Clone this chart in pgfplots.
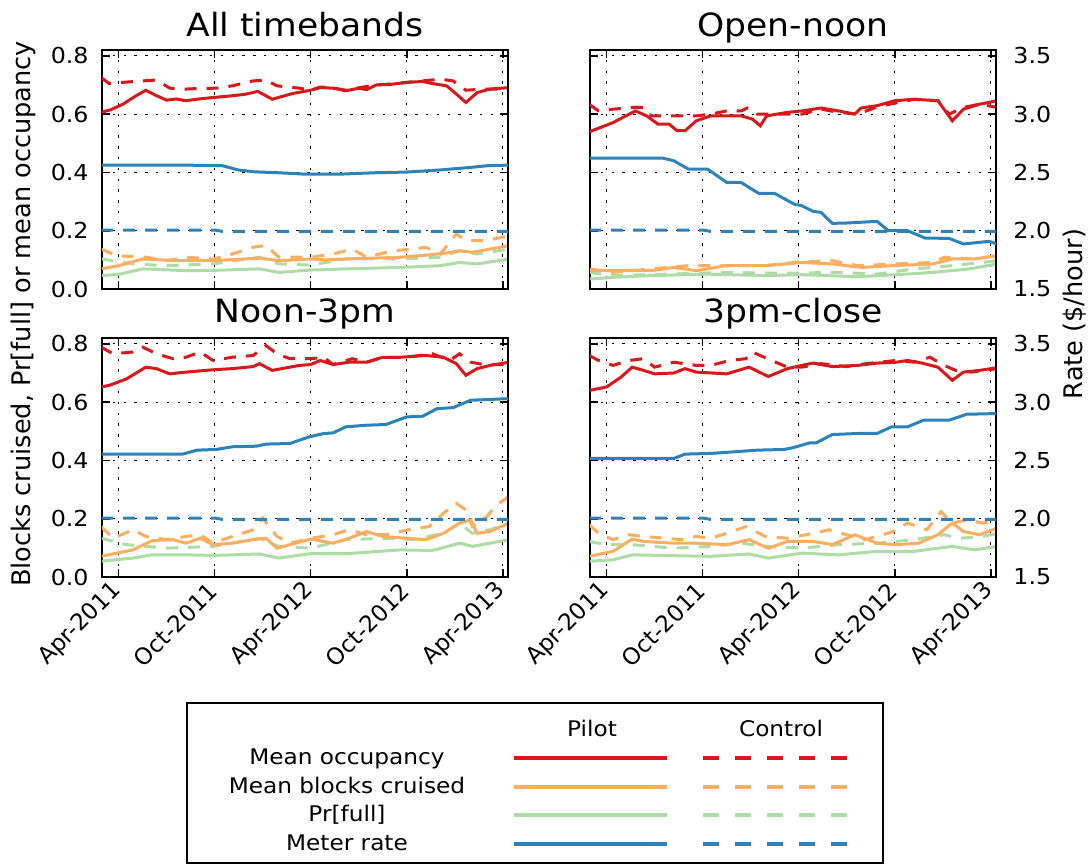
\documentclass[border=0pt]{standalone}
\usepackage{pgfplots}
\pgfplotsset{compat=1.18}
\usepackage{fontspec}
\setmainfont{DejaVu Sans}[FakeStretch=1.08]
\newfontfamily\rotfont{DejaVu Sans}
\definecolor{cRed}{HTML}{D7191C}
\definecolor{cOr}{HTML}{FDAE61}
\definecolor{cGr}{HTML}{ABDDA4}
\definecolor{cBl}{HTML}{2B83BA}

\pgfplotsset{
 panel/.style={scale only axis, width=203pt, height=119.5pt, xmin=-1.04, xmax=24.33,
   xtick={0,6,12,18,24}, tick align=inside, major tick length=4pt,
   axis line style={line width=1pt}, every tick/.style={black, line width=0.8pt},
   tick label style={font=\fontsize{11}{13}\selectfont},
   every axis plot/.append style={line width=1.5pt}},
 leftax/.style={panel, ymin=0, ymax=0.82, ytick={0,0.2,0.4,0.6,0.8}, ytick pos=left, xtick pos=both,
   grid=major, grid style={black, line width=0.5pt, dash pattern=on 1.2pt off 4.2pt}},
 rightax/.style={panel, ymin=1.5, ymax=3.55, ytick={1.5,2,2.5,3,3.5}, axis y line*=right,
   axis x line=none, y axis line style={-}},
 ylabL/.style={yticklabels={0.0,0.2,0.4,0.6,0.8}, yticklabel style={inner sep=0pt, anchor=east, xshift=-6.5pt}},
 ylabR/.style={yticklabels={1.5,2.0,2.5,3.0,3.5}, yticklabel style={inner sep=0pt, anchor=west, xshift=8.5pt}},
 noyl/.style={yticklabels={}},
 xlab/.style={xticklabels={Apr-2011,Oct-2011,Apr-2012,Oct-2012,Apr-2013},
   xticklabel style={font=\rotfont\fontsize{11.5}{13}\selectfont, xshift=-0.5pt, yshift=-5pt, rotate=45, anchor=east, inner sep=0pt}},
 noxl/.style={xticklabels={}},
 ctl/.style={dash pattern=on 6pt off 5pt},
}

\begin{document}
\begin{tikzpicture}
\useasboundingbox (0,0) rectangle (545.5pt,-432.5pt);

% ================= Panel 1: All timebands =================
\begin{axis}[leftax, ylabL, noxl, at={(51pt,-144.5pt)}, anchor=south west]
\addplot[cGr] coordinates {(-1.1,0.046) (0,0.05) (1.5,0.069) (4.2,0.063) (6,0.064) (8.8,0.069) (10,0.057) (12,0.065) (14.2,0.069) (17.6,0.074) (20.1,0.08) (21.3,0.091) (22.4,0.086) (24.4,0.103)};
\addplot[cGr,ctl] coordinates {(-1.1,0.103) (0.9,0.086) (3,0.08) (5.9,0.086) (8.8,0.109) (10,0.086) (12,0.082) (14.2,0.103) (17.6,0.103) (20.1,0.109) (21.3,0.131) (22.4,0.12) (24.4,0.137)};
\addplot[cOr] coordinates {(-1.1,0.069) (0,0.08) (1.5,0.103) (3,0.099) (4.5,0.097) (5.9,0.097) (7.5,0.102) (8.8,0.106) (10,0.097) (11,0.1) (12,0.103) (13,0.1) (14.2,0.103) (16,0.106) (17.6,0.109) (19.6,0.118) (20.5,0.124) (21.3,0.131) (22.1,0.126) (23.2,0.137) (24.4,0.149)};
\addplot[cOr,ctl] coordinates {(-1.1,0.137) (-0.1,0.114) (1.7,0.109) (3,0.097) (4.2,0.109) (5.9,0.103) (7.1,0.12) (8.4,0.143) (9.2,0.15) (10,0.109) (12,0.109) (13.4,0.12) (14.6,0.137) (15.5,0.109) (17.1,0.131) (18.4,0.137) (19.2,0.143) (20.1,0.12) (21.1,0.189) (21.7,0.166) (23,0.166) (24.4,0.183)};
\addplot[cRed] coordinates {(-1.1,0.606) (-0.5,0.615) (0.3,0.635) (1,0.66) (1.7,0.682) (2.3,0.665) (3,0.648) (3.6,0.652) (4.2,0.646) (5,0.652) (5.9,0.657) (6.5,0.66) (7.1,0.663) (7.9,0.668) (8.7,0.678) (9.6,0.651) (10.3,0.662) (10.9,0.671) (12,0.682) (12.6,0.691) (13.4,0.689) (14.2,0.68) (15,0.689) (15.5,0.684) (16.1,0.70) (17,0.702) (18,0.709) (19,0.712) (19.6,0.705) (20.5,0.697) (21.1,0.669) (21.7,0.64) (22.4,0.674) (23.2,0.686) (24.4,0.691)};
\addplot[cRed,ctl] coordinates {(-1.1,0.726) (-0.6,0.705) (0.5,0.71) (1.5,0.714) (2.35,0.717) (3.2,0.689) (4.2,0.686) (5,0.688) (6.1,0.689) (7.1,0.697) (8.4,0.714) (9.2,0.717) (9.9,0.697) (11.3,0.689) (12,0.682) (12.6,0.693) (13.4,0.69) (14.2,0.682) (15,0.69) (16.1,0.701) (17,0.703) (18,0.709) (19,0.714) (20.1,0.72) (20.9,0.714) (21.7,0.682) (22.8,0.686) (24.4,0.686)};
\end{axis}
\begin{axis}[rightax, noyl, at={(51pt,-144.5pt)}, anchor=south west]
\addplot[cBl] coordinates {(-1.1,2.563) (4,2.563) (6.5,2.557) (7.5,2.52) (8.5,2.505) (10,2.497) (11.5,2.486) (14,2.486) (16,2.497) (18,2.503) (20,2.52) (22,2.543) (23,2.557) (24.4,2.563)};
\addplot[cBl,ctl] coordinates {(-1.1,2.006) (6,2.006) (6.5,1.994) (24.4,1.994)};
\end{axis}

% ================= Panel 2: Open-noon =================
\begin{axis}[leftax, noyl, noxl, at={(295pt,-144.5pt)}, anchor=south west]
\addplot[cGr] coordinates {(-1.1,0.034) (0.4,0.04) (2.8,0.046) (6.3,0.051) (9.9,0.046) (12.2,0.049) (15.7,0.042) (18.1,0.049) (20.4,0.057) (22.7,0.069) (24.4,0.086)};
\addplot[cGr,ctl] coordinates {(-1.1,0.057) (0.4,0.046) (3.9,0.051) (7.5,0.057) (11,0.054) (14.5,0.057) (16.9,0.051) (19.2,0.069) (21.6,0.08) (24.4,0.097)};
\addplot[cOr] coordinates {(-1.1,0.063) (2.8,0.063) (4.2,0.074) (5.6,0.063) (7.5,0.08) (9.9,0.08) (12.2,0.091) (14.1,0.086) (15.9,0.074) (17.8,0.08) (20.4,0.086) (21.6,0.103) (23,0.103) (24.4,0.114)};
\addplot[cOr,ctl] coordinates {(-1.1,0.069) (0.4,0.057) (2.8,0.069) (5.1,0.08) (7.5,0.08) (9.9,0.08) (11.7,0.091) (14.1,0.097) (15.7,0.08) (18.1,0.086) (20.4,0.091) (21.1,0.109) (22.7,0.103) (24.4,0.114)};
\addplot[cRed] coordinates {(-1.1,0.539) (0.4,0.571) (1.8,0.611) (2.5,0.594) (3.2,0.566) (3.9,0.566) (4.4,0.543) (4.9,0.543) (5.6,0.577) (6.5,0.594) (8.4,0.594) (9.1,0.583) (9.6,0.56) (10,0.594) (11.3,0.606) (12.2,0.611) (13.4,0.621) (14.5,0.611) (15.5,0.6) (15.9,0.621) (16.9,0.629) (18,0.646) (19.2,0.651) (20.7,0.646) (21.6,0.577) (22.3,0.617) (23.3,0.634) (24.4,0.646)};
\addplot[cRed,ctl] coordinates {(-1.1,0.634) (-0.5,0.611) (0.4,0.617) (1.6,0.623) (2.3,0.623) (2.8,0.594) (4.2,0.594) (5.6,0.594) (6.5,0.6) (7.5,0.611) (8.4,0.611) (8.8,0.621) (9.4,0.6) (11.3,0.6) (12.2,0.6) (13.4,0.617) (14.5,0.606) (15.7,0.6) (16.9,0.625) (19.2,0.651) (20.7,0.646) (21.4,0.6) (22.3,0.623) (23.3,0.634) (24.4,0.623)};
\end{axis}
\begin{axis}[rightax, ylabR, at={(295pt,-144.5pt)}, anchor=south west]
\addplot[cBl] coordinates {(-1.1,2.623) (3.5,2.623) (4.2,2.6) (5.1,2.529) (6.3,2.529) (7.5,2.414) (8.4,2.414) (9.5,2.32) (10.5,2.32) (11.7,2.229) (12.2,2.214) (12.9,2.166) (13.4,2.157) (14.1,2.063) (15,2.066) (16.9,2.08) (17.6,2.0) (18.8,2.0) (19.9,1.937) (21.4,1.934) (22.3,1.886) (23.9,1.909) (24.4,1.886)};
\addplot[cBl,ctl] coordinates {(-1.1,2.006) (6,2.006) (6.5,1.994) (24.4,1.994)};
\end{axis}

% ================= Panel 3: Noon-3pm =================
\begin{axis}[leftax, ylabL, xlab, at={(51pt,-288.5pt)}, anchor=south west]
\addplot[cGr] coordinates {(-1.1,0.054) (0.9,0.065) (2.1,0.076) (4.2,0.076) (5.9,0.074) (8.8,0.079) (10,0.065) (12,0.08) (14.2,0.08) (17.6,0.093) (19.6,0.091) (21.3,0.116) (22.1,0.105) (24.4,0.128)};
\addplot[cGr,ctl] coordinates {(-1.1,0.133) (0.5,0.111) (3,0.099) (5.9,0.105) (8.8,0.133) (10,0.105) (12,0.099) (14.2,0.128) (16.7,0.133) (18.4,0.128) (20.3,0.15) (21.3,0.185) (22.1,0.15) (23.2,0.162) (24.4,0.185)};
\addplot[cOr] coordinates {(-1.1,0.071) (0.9,0.093) (2.1,0.125) (3.4,0.128) (4.2,0.116) (5.1,0.133) (5.9,0.111) (7.1,0.116) (8.4,0.128) (9.2,0.133) (9.9,0.099) (10.7,0.111) (12,0.13) (13.4,0.116) (14.4,0.133) (15.5,0.156) (16.5,0.139) (18,0.133) (19.2,0.128) (20.3,0.15) (21.3,0.185) (22,0.196) (22.4,0.15) (23.2,0.156) (24.4,0.185)};
\addplot[cOr,ctl] coordinates {(-1.1,0.173) (-0.35,0.133) (0.9,0.162) (1.7,0.139) (3,0.128) (4.2,0.139) (5.1,0.145) (5.9,0.116) (7.1,0.139) (8.4,0.162) (9,0.202) (9.9,0.139) (10.7,0.116) (12,0.133) (13.4,0.145) (14.4,0.162) (15.5,0.145) (16.7,0.145) (18.1,0.162) (19.4,0.173) (20.3,0.219) (21.1,0.253) (21.7,0.23) (22.1,0.173) (23,0.207) (23.6,0.247) (24.4,0.276)};
\addplot[cRed] coordinates {(-1.1,0.652) (-0.56,0.658) (0.5,0.68) (1.7,0.72) (2.35,0.715) (3.2,0.697) (4.2,0.703) (5.9,0.711) (7.1,0.715) (8.4,0.722) (8.8,0.732) (9.6,0.709) (10.5,0.718) (11.3,0.726) (12,0.729) (12.6,0.743) (13.4,0.729) (14.4,0.737) (15.5,0.737) (16.5,0.754) (17.6,0.754) (19.2,0.76) (20.3,0.754) (21.1,0.732) (21.7,0.692) (22.4,0.715) (23.2,0.726) (24.4,0.737)};
\addplot[cRed,ctl] coordinates {(-1.1,0.789) (-0.35,0.766) (0.9,0.772) (1.5,0.789) (2.35,0.766) (3.4,0.749) (4.2,0.754) (5.1,0.772) (5.9,0.743) (7.1,0.754) (8.4,0.76) (9.2,0.794) (9.9,0.766) (10.7,0.749) (12,0.749) (12.8,0.754) (13.4,0.729) (14.6,0.749) (15.5,0.737) (16.5,0.754) (18,0.754) (19.6,0.766) (20.7,0.743) (21.3,0.766) (22,0.737) (22.8,0.729) (24.4,0.729)};
\end{axis}
\begin{axis}[rightax, noyl, at={(51pt,-288.5pt)}, anchor=south west]
\addplot[cBl] coordinates {(-1.1,2.554) (4,2.554) (4.9,2.588) (6.1,2.594) (7.1,2.617) (8.6,2.622) (9.2,2.64) (10.7,2.645) (11.9,2.702) (12.8,2.73) (13.4,2.736) (14.2,2.788) (15.5,2.802) (16.7,2.808) (18,2.873) (19,2.879) (19.9,2.944) (20.9,2.953) (22,3.016) (24.4,3.03)};
\addplot[cBl,ctl] coordinates {(-1.1,2.006) (6,2.006) (6.5,1.994) (24.4,1.994)};
\end{axis}

% ================= Panel 4: 3pm-close =================
\begin{axis}[leftax, noyl, xlab, at={(295pt,-288.5pt)}, anchor=south west]
\addplot[cGr] coordinates {(-1.1,0.054) (0.4,0.059) (1.6,0.076) (4.2,0.073) (6.5,0.071) (8.9,0.079) (10.1,0.065) (12.2,0.082) (14.5,0.076) (16.9,0.088) (19.2,0.088) (21.6,0.105) (23,0.093) (24.4,0.105)};
\addplot[cGr,ctl] coordinates {(-1.1,0.122) (0,0.111) (1.6,0.111) (4.2,0.099) (6.5,0.105) (8.4,0.116) (10.1,0.105) (12.2,0.099) (14.5,0.111) (16.9,0.116) (19.2,0.128) (21.1,0.145) (22.1,0.133) (23.5,0.139) (24.4,0.15)};
\addplot[cOr] coordinates {(-1.1,0.071) (0.4,0.088) (1.6,0.13) (2.3,0.122) (4.2,0.116) (5.6,0.116) (7.5,0.111) (8.9,0.128) (10.1,0.099) (11.3,0.122) (12.9,0.122) (14.1,0.111) (15.5,0.145) (16.9,0.116) (18.1,0.111) (19.5,0.116) (20.7,0.145) (21.6,0.185) (22.3,0.156) (23.3,0.145) (24.4,0.168)};
\addplot[cOr,ctl] coordinates {(-1.1,0.179) (-0.5,0.15) (0.4,0.128) (1.4,0.145) (2.3,0.139) (3.7,0.133) (4.7,0.128) (5.6,0.139) (6.5,0.133) (7.5,0.15) (8.7,0.173) (9.9,0.139) (11.3,0.133) (12.9,0.15) (13.9,0.162) (15,0.145) (16.2,0.128) (17.9,0.156) (18.8,0.185) (20,0.162) (20.9,0.224) (21.6,0.185) (22.5,0.196) (23.5,0.185) (24.4,0.196)};
\addplot[cRed] coordinates {(-1.1,0.64) (0,0.652) (0.9,0.686) (1.6,0.72) (2.3,0.709) (3,0.697) (4.2,0.70) (4.9,0.715) (5.6,0.703) (7.5,0.697) (8.9,0.72) (10.1,0.688) (11.3,0.715) (12.2,0.726) (12.9,0.734) (14.1,0.722) (15.7,0.726) (16.9,0.734) (18.1,0.737) (18.8,0.743) (19.7,0.734) (20.7,0.72) (21.6,0.675) (22.3,0.703) (23.3,0.709) (24.4,0.718)};
\addplot[cRed,ctl] coordinates {(-1.1,0.76) (-0.5,0.743) (0.4,0.726) (1.4,0.743) (2.3,0.749) (3,0.72) (4.2,0.737) (5.6,0.726) (6.5,0.726) (7.7,0.743) (8.7,0.749) (9.1,0.772) (10.3,0.743) (11.3,0.72) (12.2,0.72) (13.4,0.732) (15,0.722) (16.2,0.732) (18.1,0.743) (19.2,0.737) (20.2,0.754) (21.1,0.726) (21.8,0.709) (22.8,0.703) (24.4,0.715)};
\end{axis}
\begin{axis}[rightax, ylabR, at={(295pt,-288.5pt)}, anchor=south west]
\addplot[cBl] coordinates {(-1.1,2.517) (4.2,2.517) (4.9,2.554) (6.5,2.56) (8,2.574) (9.4,2.588) (11.1,2.594) (11.7,2.611) (12.7,2.651) (13.1,2.651) (14.1,2.722) (15.7,2.731) (16.9,2.731) (17.8,2.788) (18.8,2.788) (19.8,2.845) (21.4,2.845) (22.5,2.896) (24.4,2.902)};
\addplot[cBl,ctl] coordinates {(-1.1,2.006) (6,2.006) (6.5,1.994) (24.4,1.994)};
\end{axis}

% ================= Titles and axis labels =================
\begin{scope}[every node/.style={font=\fontsize{16}{19}\selectfont, anchor=base, inner sep=0pt}]
\node at (152.5pt,-18.5pt) {All timebands};
\node at (396.5pt,-18.5pt) {Open-noon};
\node at (152.5pt,-161.5pt) {Noon-3pm};
\node at (396.5pt,-161.5pt) {3pm-close};
\end{scope}
\node[rotate=90, font=\rotfont\fontsize{12.8}{15}\selectfont] at (11.5pt,-157pt) {Blocks cruised, Pr[full] or mean occupancy};
\node[rotate=90, font=\rotfont\fontsize{12.8}{15}\selectfont] at (537.5pt,-157pt) {Rate (\$/hour)};

% ================= Legend =================
\draw[line width=1pt] (93.5pt,-351.5pt) rectangle (441.5pt,-431.5pt);
\begin{scope}[every node/.style={font=\fontsize{10.75}{13}\selectfont, anchor=base, inner sep=0pt}]
\node at (296pt,-368pt) {Pilot};
\node at (390.5pt,-368pt) {Control};
\node at (173.5pt,-382pt) {Mean occupancy};
\node at (173.5pt,-396.5pt) {Mean blocks cruised};
\node at (173.5pt,-410.5pt) {Pr[full]};
\node at (173.5pt,-425pt) {Meter rate};
\end{scope}
\foreach \c/\y in {cRed/-379, cOr/-393.5, cGr/-407.5, cBl/-422}{
  \draw[\c, line width=2pt] (257pt,\y pt) -- (333.5pt,\y pt);
  \draw[\c, line width=2pt, dash pattern=on 8pt off 8pt] (351.5pt,\y pt) -- (423.5pt,\y pt);
}
\end{tikzpicture}
\end{document}
